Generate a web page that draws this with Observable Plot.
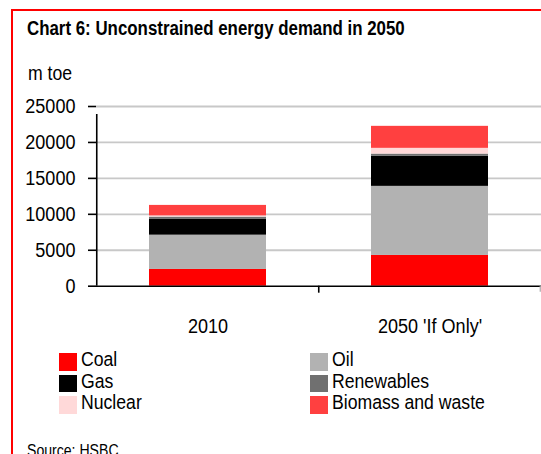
<!DOCTYPE html>
<html><head><meta charset="utf-8">
<script src="https://cdn.jsdelivr.net/npm/d3@7"></script>
<script src="https://cdn.jsdelivr.net/npm/@observablehq/plot@0.6"></script>
<style>
body{margin:0;background:#fff;}
#wrap{position:relative;width:541px;height:454px;overflow:hidden;font-family:"Liberation Sans",Arial,sans-serif;color:#000;}
#bt{position:absolute;left:11px;top:9px;right:0;height:2px;background:#f00;}
#bl{position:absolute;left:11px;top:9px;width:2px;bottom:0;background:#f00;}
.t{position:absolute;white-space:nowrap;line-height:1;transform-origin:0 0;}
#title{left:27px;top:18.5px;font-weight:bold;font-size:19.5px;transform:scaleX(0.865);}
#unit{left:28px;top:62px;font-size:21px;transform:scaleX(0.84);}
#chart{position:absolute;left:0;top:90px;}
#legend{position:absolute;left:59px;top:353px;display:grid;grid-template-columns:251px 200px;grid-auto-rows:21.7px;}
.li{display:flex;align-items:flex-start;font-size:20.5px;}
.sw{width:17.5px;height:17.5px;margin-right:4.5px;flex:none;}
.li span{position:relative;top:-4px;line-height:1;white-space:nowrap;display:inline-block;transform:scaleX(0.86);transform-origin:0 0;}
#source{left:27px;top:443px;font-size:16px;transform:scaleX(0.88);}
</style>
</head><body>
<div id="wrap">
  <div id="bt"></div><div id="bl"></div>
  <div class="t" id="title">Chart 6: Unconstrained energy demand in 2050</div>
  <div class="t" id="unit">m toe</div>
  <div id="chart"></div>
  <div id="legend"></div>
  <div class="t" id="source">Source: HSBC</div>
</div>
<script>
const categories = ["2010", "2050 'If Only'"];
const seriesNames = ["Coal", "Oil", "Gas", "Renewables", "Nuclear", "Biomass and waste"];
const seriesColors = ["#ff0000", "#b2b2b2", "#000000", "#707070", "#ffd9d9", "#ff4040"];
const coal = [2330, 4280];
const oil = [4770, 9610];
const gas = [2190, 4210];
const renewables = [320, 280];
const nuclear = [170, 800];
const biomass = [1460, 3060];
const yTicks = [0, 5000, 10000, 15000, 20000, 25000];
const legendOrder = ["Coal", "Oil", "Gas", "Renewables", "Nuclear", "Biomass and waste"];

const seriesValues = [coal, oil, gas, renewables, nuclear, biomass];
const table = [];
seriesNames.forEach((s, si) => categories.forEach((c, ci) => table.push({category: c, series: s, value: seriesValues[si][ci]})));

const W = 541, ML = 96, MR = 0;
const step = (W - ML - MR) / categories.length;
const font = '"Liberation Sans",Arial,sans-serif';

const chart = Plot.plot({
  width: W, height: 246,
  marginTop: 16, marginBottom: 50.3, marginLeft: ML, marginRight: MR,
  style: {fontFamily: font, fontSize: "21px", color: "#000", background: "transparent", overflow: "visible"},
  x: {domain: categories, paddingInner: 0.472, paddingOuter: 0.236, label: null},
  y: {domain: [0, 25000], label: null},
  color: {domain: seriesNames, range: seriesColors},
  marks: [
    Plot.gridY(yTicks.slice(1), {stroke: "#c8c8c8", strokeOpacity: 1, strokeWidth: 1.8}),
    Plot.barY(table, Plot.stackY({x: "category", y: "value", fill: "series"})),
    Plot.ruleY([0], {stroke: "#000", strokeWidth: 1.6}),
    Plot.ruleX([categories[0]], {dx: -step / 2, y1: 0, y2: 25000, insetBottom: -8, stroke: "#000", strokeWidth: 1.6}),
    Plot.ruleX(categories.slice(1), {dx: -step / 2, y1: 0, y2: 0, insetBottom: -7, stroke: "#000", strokeWidth: 1.6}),
    Plot.ruleX(categories.slice(-1), {dx: step / 2 - 1, y1: 0, y2: 0, insetBottom: -6, stroke: "#aaa", strokeWidth: 1.2}),
    Plot.axisY(yTicks, {tickSize: 8, tickPadding: 13, strokeWidth: 1.6, fontSize: 21, tickFormat: d3.format("d"), label: null}),
    Plot.axisX({tickSize: 0, tickPadding: 31.5, fontSize: 21, label: null})
  ]
});
// condense tick labels horizontally around their anchors
chart.querySelectorAll("text").forEach(t => {
  const tr = t.getAttribute("transform") || "";
  t.setAttribute("transform", (tr + " scale(0.86,1)").trim());
});
document.getElementById("chart").appendChild(chart);

const legend = document.getElementById("legend");
legendOrder.forEach(name => {
  const i = seriesNames.indexOf(name);
  const item = document.createElement("div");
  item.className = "li";
  const sw = document.createElement("div");
  sw.className = "sw";
  sw.style.background = seriesColors[i];
  const lab = document.createElement("span");
  lab.textContent = name;
  item.appendChild(sw); item.appendChild(lab);
  legend.appendChild(item);
});
</script>
</body></html>
